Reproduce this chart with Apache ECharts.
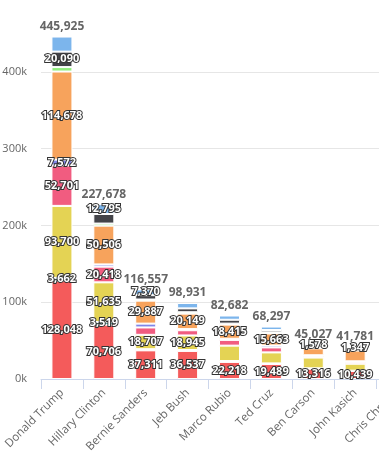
<!DOCTYPE html>
<html>
<head>
<meta charset="utf-8">
<script src="https://cdn.jsdelivr.net/npm/echarts@6/dist/echarts.min.js"></script>
<style>
html,body{margin:0;padding:0;background:#fff;}
#chart{width:379px;height:464px;}
</style>
</head>
<body>
<div id="chart"></div>
<script>
// Categories (the last one is cut off at the right edge of the picture; its bar is not visible)
const categories = ['Donald Trump','Hillary Clinton','Bernie Sanders','Jeb Bush','Marco Rubio','Ted Cruz','Ben Carson','John Kasich','Chris Christie'];

// Stacked segments, bottom to top
const seriesRed       = [128048, 70706, 37311, 36537, 22218, 19489, 13316, 10439, null];
const seriesTeal      = [3662,   3519,  1500,  1200,  1200,  800,   600,   400,   null];
const seriesYellow    = [93700,  51635, 18707, 18945, 20000, 14345, 14000, 9000,  null];
const seriesPink      = [52701,  20418, 9600,  6800,  7500,  6500,  1800,  2000,  null];
const seriesPurple    = [7572,   2900,  5000,  1500,  1500,  2500,  1200,  1200,  null];
const seriesOrange    = [114678, 50506, 29887, 20149, 18415, 15663, 9000,  14000, null];
const seriesGreen     = [5800,   2700,  1500,  1800,  1300,  1500,  700,   800,   null];
const seriesBlack     = [20090,  12499, 5682,  5000,  5000,  3000,  2833,  2595,  null];
const seriesLightBlue = [19674,  12795, 7370,  7000,  5549,  4500,  1578,  1347,  null];

// Stack totals printed above each bar
const totals = [445925, 227678, 116557, 98931, 82682, 68297, 45027, 41781, null];

// Which segments carry a printed value label (indices into the stack, bottom = 0)
const printedLabels = [
  [0,1,2,3,4,5,7],
  [0,1,2,3,5,8],
  [0,2,5,8],
  [0,2,5],
  [0,5],
  [0,5],
  [0,8],
  [0,8],
  []
];

const yTicks = [0, 100000, 200000, 300000, 400000, 500000];

const stacks = [seriesRed, seriesTeal, seriesYellow, seriesPink, seriesPurple, seriesOrange, seriesGreen, seriesBlack, seriesLightBlue];
const colors = ['#f45b5b','#2b908f','#e4d354','#f15c80','#8085e9','#f7a35c','#90ed7d','#434348','#7cb5ec'];
const fmt = v => Number(v).toLocaleString('en-US');
const FONT = '"Open Sans", "DejaVu Sans", sans-serif';

const series = stacks.map((arr, si) => ({
  type: 'bar',
  stack: 'total',
  barWidth: 21,
  silent: true,
  itemStyle: { color: colors[si], borderColor: '#ffffff', borderWidth: 1 },
  label: {
    position: 'inside',
    color: '#ffffff',
    fontFamily: FONT,
    fontWeight: 'bold',
    fontSize: 11,
    textBorderColor: '#333333',
    textBorderWidth: 2,
    formatter: p => fmt(p.value)
  },
  data: arr.map((v, ci) => ({
    value: v,
    label: { show: v != null && printedLabels[ci].includes(si) }
  }))
}));

series.push({
  type: 'bar',
  stack: 'total',
  barWidth: 21,
  silent: true,
  itemStyle: { color: 'rgba(0,0,0,0)' },
  label: {
    show: true,
    position: 'top',
    distance: 4,
    color: '#666666',
    fontFamily: FONT,
    fontWeight: 'bold',
    fontSize: 12,
    formatter: p => totals[p.dataIndex] == null ? '' : fmt(totals[p.dataIndex])
  },
  data: totals.map(() => 0)
});

const chart = echarts.init(document.getElementById('chart'), null, { renderer: 'canvas' });
chart.setOption({
  animation: false,
  backgroundColor: '#ffffff',
  grid: { left: 41, right: -39, top: -5, bottom: 85, containLabel: false, outerBoundsMode: 'none' },
  xAxis: {
    type: 'category',
    data: categories,
    axisLine: { show: true, lineStyle: { color: '#ccd6eb', width: 1 } },
    axisTick: { show: true, length: 10, lineStyle: { color: '#ccd6eb' } },
    axisLabel: {
      rotate: 45,
      margin: 12,
      color: '#666666',
      fontFamily: FONT,
      fontSize: 11.5,
      interval: 0
    }
  },
  yAxis: {
    type: 'value',
    min: yTicks[0],
    max: yTicks[yTicks.length - 1],
    interval: yTicks[1] - yTicks[0],
    axisLine: { show: false },
    axisTick: { show: false },
    splitLine: { lineStyle: { color: '#e6e6e6' } },
    axisLabel: {
      showMaxLabel: false,
      margin: 14,
      color: '#666666',
      fontFamily: FONT,
      fontSize: 11,
      formatter: v => (v / 1000) + 'k'
    }
  },
  series: series
});
</script>
</body>
</html>
